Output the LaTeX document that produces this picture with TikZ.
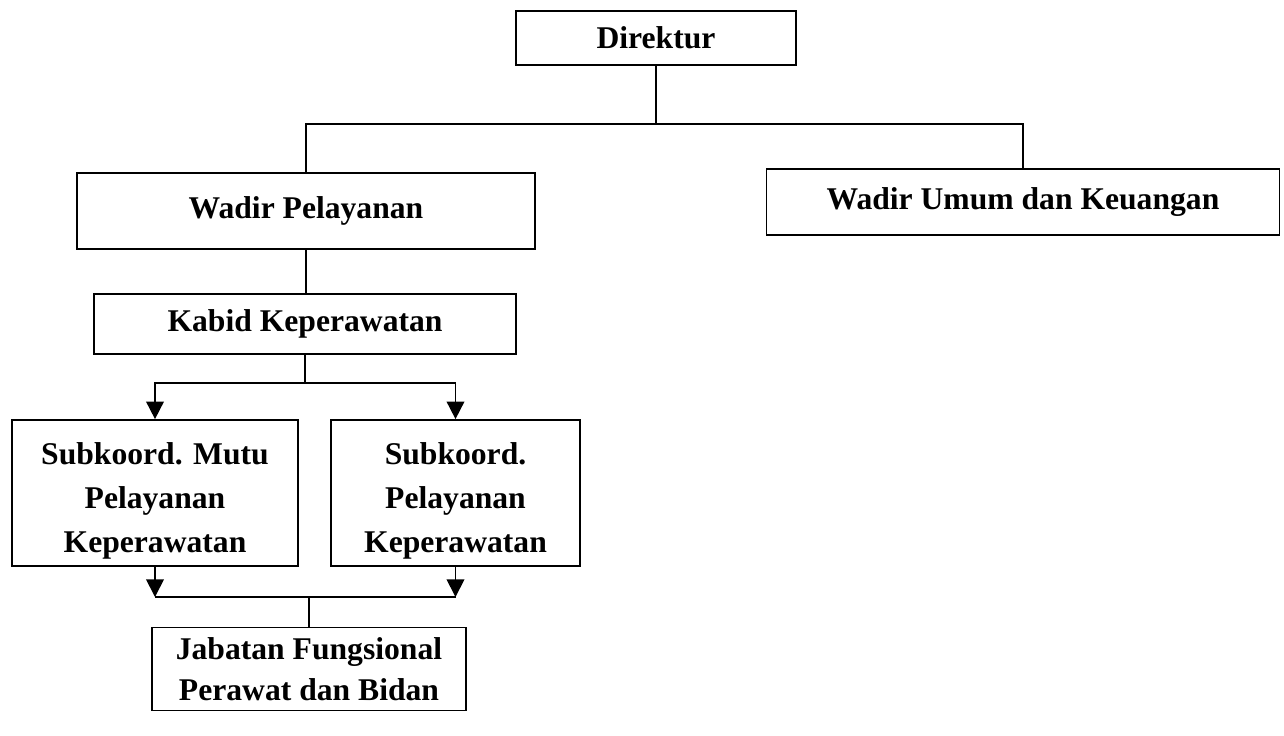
\documentclass[tikz,border=0pt]{standalone}
\usepackage{fontspec}
\setmainfont{Liberation Serif}
\usetikzlibrary{arrows.meta, positioning}

\begin{document}
\begin{tikzpicture}[x=0.02cm, y=-0.02cm]
    \tikzstyle{orgbox}=[draw, line width=1pt, rectangle, inner sep=0pt, align=center, font=\fontsize{18}{25}\selectfont\bfseries]
    \tikzstyle{lowtext}=[text height=71pt]
    \tikzstyle{link}=[line width=1pt]
    \tikzstyle{arrowlink}=[line width=1pt, -{Triangle[width=10pt, length=10pt]}]

    \useasboundingbox (0,0) rectangle (1284,735);

    \node[orgbox, minimum width=5.6cm, minimum height=1.08cm] (direktur) at (656,38) {Direktur};
    \node[orgbox, minimum width=9.16cm, minimum height=1.52cm] (wadir1) at (306,211) {Wadir Pelayanan};
    \node[orgbox, minimum width=10.26cm, minimum height=1.32cm] (wadir2) at (1023,202) {Wadir Umum dan Keuangan};
    \node[orgbox, minimum width=8.44cm, minimum height=1.2cm] (kabid) at (305,324) {Kabid Keperawatan};
    \node[orgbox, lowtext, minimum width=5.72cm, minimum height=2.92cm] (sub1) at (155,493) {Subkoord. Mutu\\Pelayanan\\Keperawatan};
    \node[orgbox, lowtext, minimum width=4.98cm, minimum height=2.92cm] (sub2) at (455.5,493) {Subkoord.\\Pelayanan\\Keperawatan};
    \node[orgbox, font=\fontsize{18}{23}\selectfont\bfseries, minimum width=6.28cm, minimum height=1.66cm] (jabatan) at (309,669) {Jabatan Fungsional\\Perawat dan Bidan};

    \coordinate (top) at (656,124);
    \draw[link] (direktur.south) -- (top);
    \draw[link] (wadir1.north) |- (top) -| (wadir2.north);
    \draw[link] (wadir1.south) -- (wadir1.south |- kabid.north);

    \coordinate (split) at (305,383);
    \draw[link] (kabid.south) -- (split);
    \draw[arrowlink] (split) -| (sub1.north);
    \draw[arrowlink] (split) -| (sub2.north);

    \coordinate (merge) at (309,597);
    \draw[arrowlink] (sub1.south) -- (sub1.south |- merge);
    \draw[arrowlink] (sub2.south) -- (sub2.south |- merge);
    \draw[link] (sub1.south |- merge) -- (sub2.south |- merge);
    \draw[link] (merge) -- (jabatan.north);
\end{tikzpicture}
\end{document}
